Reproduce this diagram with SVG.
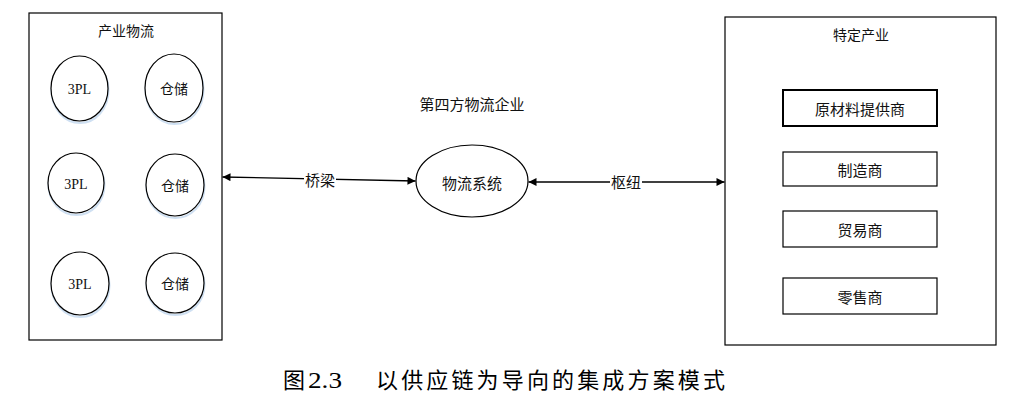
<svg xmlns="http://www.w3.org/2000/svg" width="1019" height="406" viewBox="0 0 1019 406">
<style>
.box{fill:#fff;stroke:#000;stroke-width:1.2}
.el{fill:#fff;stroke:#000;stroke-width:1.2}
.sh{fill:none;stroke:#cfe0f2;stroke-width:2}
.t{font-family:"Noto Sans CJK SC","Liberation Sans",sans-serif;font-size:14px;fill:#111;text-anchor:middle;dominant-baseline:central}
.n{font-family:"Liberation Serif",serif;font-size:14px;fill:#111;text-anchor:middle;dominant-baseline:central}
.cap{font-family:"Liberation Serif","Noto Sans CJK SC",serif;font-size:22px;fill:#000}
.ln{stroke:#000;stroke-width:1.3;fill:none}
</style>
<defs>
<marker id="ah" viewBox="0 0 10 10" refX="10" refY="5" markerWidth="10" markerHeight="8" markerUnits="userSpaceOnUse" orient="auto-start-reverse">
<path d="M0,0 L10,5 L0,10 z" fill="#000"/>
</marker>
</defs>
<rect width="1019" height="406" fill="#fff"/>

<g id="industry-logistics">
<rect class="box" x="29" y="13" width="193" height="327"/>
<text class="t" x="126" y="30">产业物流</text>
</g>
<g id="n-3pl-1"><ellipse class="sh" cx="80" cy="90.5" rx="28.5" ry="32.5"/><ellipse class="el" cx="79.5" cy="88.5" rx="28.5" ry="32.5"/><text class="n" x="79.5" y="89">3PL</text></g>
<g id="n-wh-1"><ellipse class="sh" cx="174.5" cy="90" rx="29" ry="34"/><ellipse class="el" cx="174" cy="88" rx="29" ry="34"/><text class="t" x="174" y="88">仓储</text></g>
<g id="n-3pl-2"><ellipse class="sh" cx="76.5" cy="185" rx="28" ry="30"/><ellipse class="el" cx="76" cy="183" rx="28" ry="30"/><text class="n" x="76" y="184">3PL</text></g>
<g id="n-wh-2"><ellipse class="sh" cx="175.5" cy="187" rx="29" ry="31"/><ellipse class="el" cx="175" cy="185" rx="29" ry="31"/><text class="t" x="175" y="185">仓储</text></g>
<g id="n-3pl-3"><ellipse class="sh" cx="80.5" cy="285.5" rx="29" ry="31.5"/><ellipse class="el" cx="80" cy="283.5" rx="29" ry="31.5"/><text class="n" x="80" y="284">3PL</text></g>
<g id="n-wh-3"><ellipse class="sh" cx="175.5" cy="285" rx="29" ry="30"/><ellipse class="el" cx="175" cy="283" rx="29" ry="30"/><text class="t" x="175" y="283">仓储</text></g>

<g id="fourth-party">
<text class="t" x="472" y="103" style="font-size:15px">第四方物流企业</text>
</g>
<g id="logistics-system">
<ellipse class="el" cx="472" cy="181" rx="56" ry="36"/>
<text class="t" x="472" y="182" style="font-size:15px">物流系统</text>
</g>

<g id="specific-industry">
<rect class="box" x="725" y="17" width="271" height="328"/>
<text class="t" x="861" y="34">特定产业</text>
</g>
<g id="n-raw"><rect class="box" x="783" y="90" width="154" height="36" style="stroke-width:2"/><text class="t" x="860" y="108" style="font-size:15px">原材料提供商</text></g>
<g id="n-mfr"><rect class="box" x="783" y="152" width="154" height="34"/><text class="t" x="860" y="169" style="font-size:15px">制造商</text></g>
<g id="n-trade"><rect class="box" x="783" y="211" width="154" height="36"/><text class="t" x="860" y="229" style="font-size:15px">贸易商</text></g>
<g id="n-retail"><rect class="box" x="783" y="278" width="154" height="36"/><text class="t" x="860" y="296" style="font-size:15px">零售商</text></g>

<g id="connectors">
<line class="ln" x1="222.5" y1="177" x2="415.5" y2="181" marker-start="url(#ah)" marker-end="url(#ah)"/>
<rect x="304" y="171" width="32" height="16" fill="#fff"/>
<text class="t" x="320" y="179" style="font-size:15px">桥梁</text>
<line class="ln" x1="528.5" y1="182" x2="724.5" y2="182" marker-start="url(#ah)" marker-end="url(#ah)"/>
<rect x="610" y="174" width="32" height="16" fill="#fff"/>
<text class="t" x="626" y="181" style="font-size:15px">枢纽</text>
</g>

<g id="caption">
<text class="cap" x="283" y="388">图</text>
<text class="cap" x="308" y="388" style="font-size:24px" textLength="34" lengthAdjust="spacingAndGlyphs">2.3</text>
<text class="cap" x="376" y="388" textLength="349" lengthAdjust="spacing">以供应链为导向的集成方案模式</text>
</g>
</svg>
